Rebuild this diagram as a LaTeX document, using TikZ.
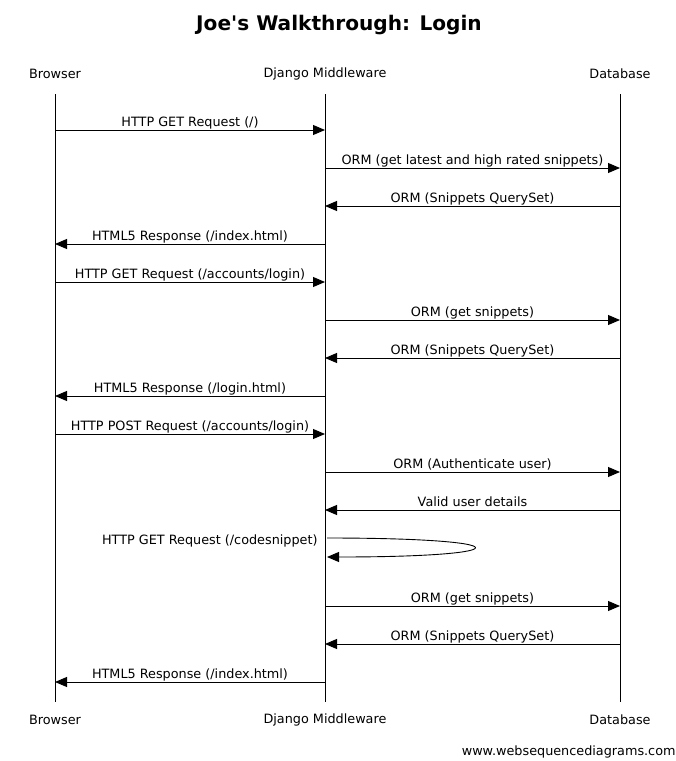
\documentclass[tikz,border=0pt]{standalone}
\usepackage{fontspec}
\setmainfont{DejaVu Sans}
\newfontfamily\titlefont{DejaVu Sans}
\usetikzlibrary{arrows.meta, calc, positioning}

\begin{document}
\begin{tikzpicture}[x=1pt, y=-1pt, >={Triangle[length=12pt, width=10pt]}, line width=0.9pt, font=\fontsize{12.8}{15}\selectfont]

\useasboundingbox (0,0) rectangle (676,761);

\node[font=\titlefont\bfseries\fontsize{20.1}{24}\selectfont] (title) at (339,25) {Joe's Walkthrough: Login};

\begin{scope}[inner sep=1pt]

\node (browser) at (55,74) {Browser};
\node (django) at (325,74) {Django Middleware};
\node (database) at (620,74) {Database};

\node (browser-end) at (55,720) {Browser};
\node (django-end) at (325,720) {Django Middleware};
\node (database-end) at (620,720) {Database};

\end{scope}

% lifelines
\foreach \who in {browser, django, database} {
  \coordinate (\who-top) at (\who |- 0,94);
  \coordinate (\who-bot) at (\who-end |- 0,702);
  \draw (\who-top) -- (\who-bot);
}

% messages
\foreach \y/\src/\dst/\txt [count=\i] in {
  130/browser/django/{HTTP GET Request (/)},
  168/django/database/{ORM (get latest and high rated snippets)},
  206/database/django/{ORM (Snippets QuerySet)},
  244/django/browser/{HTML5 Response (/index.html)},
  282/browser/django/{HTTP GET Request (/accounts/login)},
  320/django/database/{ORM (get snippets)},
  358/database/django/{ORM (Snippets QuerySet)},
  396/django/browser/{HTML5 Response (/login.html)},
  434/browser/django/{HTTP POST Request (/accounts/login)},
  472/django/database/{ORM (Authenticate user)},
  510/database/django/{Valid user details},
  606/django/database/{ORM (get snippets)},
  644/database/django/{ORM (Snippets QuerySet)},
  682/django/browser/{HTML5 Response (/index.html)}
} {
  \coordinate (from-\i) at (\src |- 0,\y);
  \coordinate (to-\i) at (\dst |- 0,\y);
  \draw[->] (from-\i) -- (to-\i) node[midway, anchor=base, yshift=4pt, inner sep=0pt] (msg-\i) {\txt};
}

% self call
\coordinate (self-out) at ($(django |- 0,538)+(2,0)$);
\coordinate (self-in) at ($(django |- 0,557)+(2,0)$);
\draw[->] (self-out) .. controls +(196,0) and +(196,0) .. (self-in);
\node[anchor=base east, inner sep=0pt] (msg-self) at ($(self-out)+(-9,6)$) {HTTP GET Request (/codesnippet)};

\node[anchor=east, inner sep=0pt] (credit) at (676,752) {www.websequencediagrams.com};

\end{tikzpicture}
\end{document}
